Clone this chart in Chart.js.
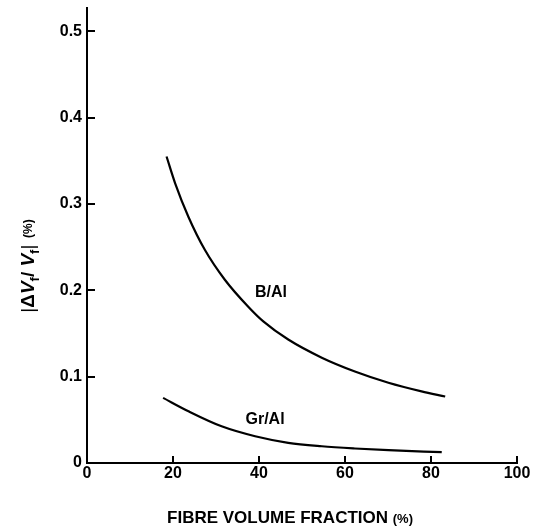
<!DOCTYPE html>
<html>
<head>
<meta charset="utf-8">
<script src="https://cdn.jsdelivr.net/npm/chart.js@4.4.0/dist/chart.umd.min.js"></script>
<style>
  body { margin: 0; background: #fff; }
  canvas { display: block; }
</style>
</head>
<body>
<canvas id="grafico" width="547" height="527"></canvas>
<script>
// fibre volume fraction (%)
const baFracao = [18.5, 20.5, 23.6, 27.4, 32.1, 37.5, 41.0, 46.8, 54.6, 62.3, 70.1, 77.8, 83.3];
const baValores = [0.355, 0.324, 0.285, 0.247, 0.212, 0.181, 0.164, 0.143, 0.122, 0.106, 0.093, 0.083, 0.077];

const grFracao = [17.7, 23.6, 31.3, 39.1, 46.8, 54.6, 62.3, 70.1, 82.5];
const grValores = [0.0754, 0.0599, 0.0425, 0.031, 0.0234, 0.0194, 0.0168, 0.0148, 0.0125];

const xTicks = [0, 20, 40, 60, 80, 100];
const yTicks = [0, 0.1, 0.2, 0.3, 0.4, 0.5];

const rotulos = [
    { texto: "B/Al", x: 42.8, y: 0.197 },
    { texto: "Gr/Al", x: 41.4, y: 0.050 }
];

const fonte = '"Liberation Sans", Arial, sans-serif';

function pontos(xs, ys) {
    return xs.map((x, i) => ({ x: x, y: ys[i] }));
}

const titulosPlugin = {
    id: "titulos",
    afterDraw(chart) {
        const ctx = chart.ctx;
        const sx = chart.scales.x;
        const sy = chart.scales.y;

        ctx.save();
        ctx.fillStyle = "#000";

        // curve labels
        ctx.font = "bold 16px " + fonte;
        ctx.textAlign = "center";
        ctx.textBaseline = "middle";
        rotulos.forEach(r => {
            ctx.fillText(r.texto, sx.getPixelForValue(r.x), sy.getPixelForValue(r.y));
        });

        // x title
        const parteA = "FIBRE VOLUME FRACTION ";
        const parteB = "(%)";
        ctx.font = "bold 17px " + fonte;
        const wA = ctx.measureText(parteA).width;
        ctx.font = "bold 13px " + fonte;
        const wB = ctx.measureText(parteB).width;
        let x0 = 290 - (wA + wB) / 2;
        ctx.textAlign = "left";
        ctx.textBaseline = "alphabetic";
        ctx.font = "bold 17px " + fonte;
        ctx.fillText(parteA, x0, 523);
        ctx.font = "bold 13px " + fonte;
        ctx.fillText(parteB, x0 + wA, 523);

        // y title, rotated
        const pecas = [
            { t: "|", f: "19px ", dy: 0 },
            { t: "\u0394", f: "bold 19px ", dy: 0 },
            { t: "V", f: "italic bold 19px ", dy: 0 },
            { t: "f", f: "bold 13px ", dy: 5 },
            { t: "/ ", f: "bold 19px ", dy: 0 },
            { t: "V", f: "italic bold 19px ", dy: 0 },
            { t: "f", f: "bold 13px ", dy: 5 },
            { t: "|", f: "19px ", dy: 0 },
            { t: "  (%)", f: "bold 12px ", dy: -2 }
        ];
        let total = 0;
        pecas.forEach(p => {
            ctx.font = p.f + fonte;
            p.w = ctx.measureText(p.t).width;
            total += p.w;
        });
        ctx.translate(27, 266);
        ctx.rotate(-Math.PI / 2);
        let px = -total / 2;
        pecas.forEach(p => {
            ctx.font = p.f + fonte;
            ctx.fillText(p.t, px, 7 + p.dy);
            px += p.w;
        });
        ctx.restore();
    }
};

new Chart(document.getElementById("grafico"), {
    type: "line",
    data: {
        datasets: [
            {
                label: "B/Al",
                data: pontos(baFracao, baValores),
                borderColor: "#000",
                borderWidth: 2.2,
                pointRadius: 0,
                cubicInterpolationMode: "monotone",
                fill: false
            },
            {
                label: "Gr/Al",
                data: pontos(grFracao, grValores),
                borderColor: "#000",
                borderWidth: 2.2,
                pointRadius: 0,
                cubicInterpolationMode: "monotone",
                fill: false
            }
        ]
    },
    options: {
        responsive: false,
        animation: false,
        layout: {
            padding: { top: 8, right: 30, left: 0, bottom: 0 }
        },
        plugins: {
            legend: { display: false },
            tooltip: { enabled: false }
        },
        scales: {
            x: {
                type: "linear",
                min: 0,
                max: 100,
                afterBuildTicks: s => { s.ticks = xTicks.map(v => ({ value: v })); },
                afterFit: s => { s.height = 64; s.paddingLeft = 0; s.paddingRight = 0; },
                border: { color: "#000", width: 2 },
                grid: {
                    drawOnChartArea: false,
                    color: "#000",
                    lineWidth: 2,
                    tickLength: -7
                },
                ticks: {
                    color: "#000",
                    padding: 8,
                    font: { family: fonte, size: 16, weight: "bold" }
                }
            },
            y: {
                type: "linear",
                min: 0,
                max: 0.527,
                afterBuildTicks: s => { s.ticks = yTicks.map(v => ({ value: v })); },
                afterFit: s => { s.width = 87; s.paddingTop = 0; s.paddingBottom = 0; },
                border: { color: "#000", width: 2 },
                grid: {
                    drawOnChartArea: false,
                    color: "#000",
                    lineWidth: 2,
                    tickLength: -8
                },
                ticks: {
                    color: "#000",
                    padding: 13,
                    font: { family: fonte, size: 16, weight: "bold" }
                }
            }
        }
    },
    plugins: [titulosPlugin]
});
</script>
</body>
</html>
